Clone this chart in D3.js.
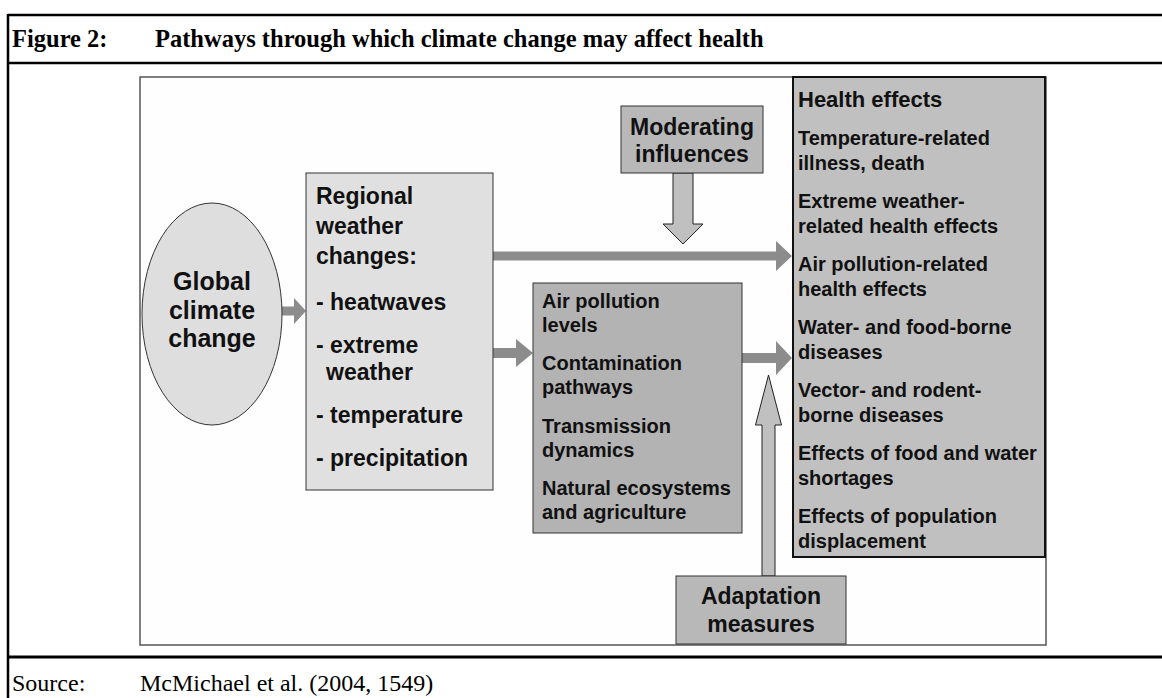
<!DOCTYPE html>
<html>
<head>
<meta charset="utf-8">
<script src="https://cdn.jsdelivr.net/npm/d3@7"></script>
<style>
  body { margin: 0; background: #fff; }
  svg { display: block; }
</style>
</head>
<body>
<div id="chart"></div>
<script>
// text content of the diagram
const figureLabel = "Figure 2:";
const figureTitle = "Pathways through which climate change may affect health";
const sourceLabel = "Source:";
const sourceText = "McMichael et al. (2004, 1549)";

const globalLabel = ["Global", "climate", "change"];
const regionalHead = ["Regional", "weather", "changes:"];
const weatherItems = [["- heatwaves"], ["- extreme", " weather"], ["- temperature"], ["- precipitation"]];
const pathwayItems = [
  ["Air pollution", "levels"],
  ["Contamination", "pathways"],
  ["Transmission", "dynamics"],
  ["Natural ecosystems", "and agriculture"]
];
const moderatingLabel = ["Moderating", "influences"];
const adaptationLabel = ["Adaptation", "measures"];
const healthHead = "Health effects";
const healthItems = [
  ["Temperature-related", "illness, death"],
  ["Extreme weather-", "related health effects"],
  ["Air pollution-related", "health effects"],
  ["Water- and food-borne", "diseases"],
  ["Vector- and rodent-", "borne diseases"],
  ["Effects of food and water", "shortages"],
  ["Effects of population", "displacement"]
];

const width = 1162, height = 698;
const sans = "'Liberation Sans', Arial, sans-serif";
const serif = "'Liberation Serif', 'Times New Roman', serif";
const ink = "#111";

const svg = d3.select("#chart").append("svg")
  .attr("width", width).attr("height", height);

// ---- outer figure frame ----
const frame = svg.append("g").attr("stroke", "#000").attr("fill", "none");
frame.append("line").attr("x1", 8).attr("x2", width + 5).attr("y1", 15).attr("y2", 15).attr("stroke-width", 2.5);
frame.append("line").attr("x1", 8).attr("x2", width + 5).attr("y1", 63).attr("y2", 63).attr("stroke-width", 2.5);
frame.append("line").attr("x1", 8).attr("x2", width + 5).attr("y1", 657).attr("y2", 657).attr("stroke-width", 3);
frame.append("line").attr("x1", 8).attr("x2", 8).attr("y1", 14).attr("y2", height + 5).attr("stroke-width", 2.5);

svg.append("text").attr("x", 12).attr("y", 47)
  .style("font", `bold 24.5px ${serif}`).attr("fill", "#000").text(figureLabel);
svg.append("text").attr("x", 155).attr("y", 47)
  .style("font", `bold 24.5px ${serif}`).attr("fill", "#000").text(figureTitle);
svg.append("text").attr("x", 12).attr("y", 691)
  .style("font", `24px ${serif}`).attr("fill", "#000").text(sourceLabel);
svg.append("text").attr("x", 140).attr("y", 691)
  .style("font", `24px ${serif}`).attr("fill", "#000").text(sourceText);

// ---- inner diagram panel ----
svg.append("rect").attr("x", 140).attr("y", 77).attr("width", 906).attr("height", 568)
  .attr("fill", "#fefefe").attr("stroke", "#555").attr("stroke-width", 1.5);

// arrow helpers
function hArrow(x0, x1, cy, t, head, w) {
  const xb = x1 - head;
  return [[x0, cy - t], [xb, cy - t], [xb, cy - w], [x1, cy], [xb, cy + w], [xb, cy + t], [x0, cy + t]];
}
function vArrow(cx, y0, y1, t, head, w) {
  const dir = y1 > y0 ? 1 : -1;
  const yb = y1 - dir * head;
  return [[cx - t, y0], [cx - t, yb], [cx - w, yb], [cx, y1], [cx + w, yb], [cx + t, yb], [cx + t, y0]];
}
const line = d3.line();

// solid grey flow arrows
const solidArrows = [
  hArrow(282, 306, 311, 4.5, 12, 13),
  hArrow(493, 533, 353, 5, 17, 14),
  hArrow(493, 792, 256, 4.5, 16, 15),
  hArrow(742, 792, 358, 5, 16, 17)
];
svg.append("g").selectAll("path").data(solidArrows).join("path")
  .attr("d", d => line(d) + "Z").attr("fill", "#8c8c8c");

// ---- global climate change ellipse ----
svg.append("ellipse").attr("cx", 212).attr("cy", 314).attr("rx", 70).attr("ry", 111)
  .attr("fill", "#dedede").attr("stroke", "#333").attr("stroke-width", 1);
const gy = d3.scaleLinear().domain([0, globalLabel.length - 1]).range([290, 347]);
svg.append("g").selectAll("text").data(globalLabel).join("text")
  .attr("x", 212).attr("y", (d, i) => gy(i)).attr("text-anchor", "middle")
  .style("font", `bold 25px ${sans}`).attr("fill", ink).text(d => d);

// ---- regional weather box ----
svg.append("rect").attr("x", 306).attr("y", 173).attr("width", 187).attr("height", 317)
  .attr("fill", "#e0e0e0").attr("stroke", "#333").attr("stroke-width", 1);
const ry = d3.scaleLinear().domain([0, regionalHead.length - 1]).range([204, 264]);
svg.append("g").selectAll("text").data(regionalHead).join("text")
  .attr("x", 316).attr("y", (d, i) => ry(i))
  .style("font", `bold 23px ${sans}`).attr("fill", ink).text(d => d);
// weather list, multi-line items
const wLines = [];
let wy = 310;
weatherItems.forEach(item => {
  item.forEach((l, j) => {
    wLines.push({ text: l.trim(), indent: j > 0, y: wy });
    wy += 27;
  });
  wy += 16;
});
svg.append("g").selectAll("text").data(wLines).join("text")
  .attr("x", d => d.indent ? 326 : 316).attr("y", d => d.y)
  .style("font", `bold 23px ${sans}`).attr("fill", ink).text(d => d.text);

// ---- moderating influences ----
svg.append("path").attr("d", line(vArrow(683, 173, 244, 10, 20, 20)) + "Z")
  .attr("fill", "#c0c0c0").attr("stroke", "#222").attr("stroke-width", 1);
svg.append("rect").attr("x", 621).attr("y", 106).attr("width", 142).attr("height", 67)
  .attr("fill", "#b8b8b8").attr("stroke", "#333").attr("stroke-width", 1);
svg.append("g").selectAll("text").data(moderatingLabel).join("text")
  .attr("x", 692).attr("y", (d, i) => 135 + i * 27).attr("text-anchor", "middle")
  .style("font", `bold 23px ${sans}`).attr("fill", ink).text(d => d);

// ---- pathways box ----
svg.append("rect").attr("x", 533).attr("y", 283).attr("width", 209).attr("height", 250)
  .attr("fill", "#b3b3b3").attr("stroke", "#333").attr("stroke-width", 1);
const py = d3.scaleLinear().domain([0, pathwayItems.length - 1]).range([308, 495]);
const pg = svg.append("g").selectAll("text").data(pathwayItems).join("text")
  .attr("x", 542).attr("y", (d, i) => py(i))
  .style("font", `bold 20px ${sans}`).attr("fill", ink);
pg.selectAll("tspan").data(d => d).join("tspan")
  .attr("x", 542).attr("dy", (d, i) => i === 0 ? 0 : 24).text(d => d);

// ---- adaptation measures ----
svg.append("path").attr("d", line(vArrow(768.5, 576, 375, 6.5, 50, 13)) + "Z")
  .attr("fill", "#c0c0c0").attr("stroke", "#222").attr("stroke-width", 1);
svg.append("rect").attr("x", 676).attr("y", 576).attr("width", 170).attr("height", 68)
  .attr("fill", "#b8b8b8").attr("stroke", "#333").attr("stroke-width", 1);
svg.append("g").selectAll("text").data(adaptationLabel).join("text")
  .attr("x", 761).attr("y", (d, i) => 604 + i * 28).attr("text-anchor", "middle")
  .style("font", `bold 23px ${sans}`).attr("fill", ink).text(d => d);

// ---- health effects box ----
svg.append("rect").attr("x", 793).attr("y", 77).attr("width", 252).attr("height", 480)
  .attr("fill", "#c0c0c0").attr("stroke", "#111").attr("stroke-width", 2);
svg.append("text").attr("x", 798).attr("y", 107)
  .style("font", `bold 22px ${sans}`).attr("fill", ink).text(healthHead);
const hy = d3.scaleLinear().domain([0, healthItems.length - 1]).range([145, 523]);
const hg = svg.append("g").selectAll("text").data(healthItems).join("text")
  .attr("x", 798).attr("y", (d, i) => hy(i))
  .style("font", `bold 20px ${sans}`).attr("fill", ink);
hg.selectAll("tspan").data(d => d).join("tspan")
  .attr("x", 798).attr("dy", (d, i) => i === 0 ? 0 : 25).text(d => d);
</script>
</body>
</html>
